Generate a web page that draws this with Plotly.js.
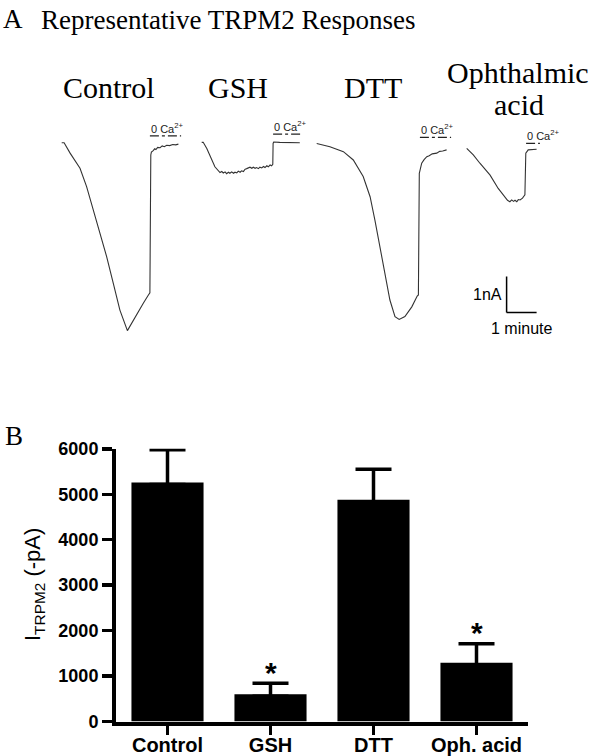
<!DOCTYPE html>
<html>
<head>
<meta charset="utf-8">
<script src="https://cdn.plot.ly/plotly-3.0.1.min.js"></script>
<style>html,body{margin:0;padding:0;background:#fff;}#chart{width:600px;height:756px;}</style>
</head>
<body>
<div id="chart"></div>
<script>
// ---------- Panel B data ----------
const categories = ['Control', 'GSH', 'DTT', 'Oph. acid'];
const meanCurrent = [5260, 600, 4880, 1290];     // -pA
const semCurrent  = [720, 240, 670, 420];        // -pA (upper error)
const significant = [false, true, false, true];
const yTicks = [0, 1000, 2000, 3000, 4000, 5000, 6000];

// ---------- Panel A recordings (time in min, current in nA) ----------
const recNames = ['Control', 'GSH', 'DTT', 'Ophthalmic acid'];
const ctrlTime = [0, 0.08, 0.28, 0.61, 0.83, 1.05, 1.28, 1.5, 1.72, 1.94, 2.19, 2.33, 2.5, 2.72, 2.89, 2.94, 2.97, 2.99, 3.05, 3.1, 3.14, 3.2, 3.28, 3.35, 3.42, 3.5, 3.6, 3.7, 3.8, 3.89];
const ctrlCurrent = [0, 0, -0.29, -0.71, -1.22, -1.87, -2.52, -3.17, -3.91, -4.65, -5.22, -5.02, -4.74, -4.46, -4.23, -4.17, -0.34, -0.26, -0.22, -0.17, -0.19, -0.13, -0.14, -0.09, -0.11, -0.07, -0.08, -0.05, -0.06, -0.04];

const gshTime = [0, 0.05, 0.17, 0.33, 0.44, 0.61, 0.67, 0.72, 0.78, 0.83, 0.89, 0.94, 1.0, 1.06, 1.11, 1.17, 1.22, 1.28, 1.33, 1.39, 1.44, 1.5, 1.56, 1.61, 1.67, 1.72, 1.78, 1.83, 1.89, 1.94, 2.0, 2.06, 2.11, 2.17, 2.22, 2.28, 2.33, 2.37, 2.38, 2.4, 2.6, 3.0, 3.27];
const gshCurrent = [0.01, 0.01, -0.16, -0.48, -0.67, -0.83, -0.80, -0.84, -0.81, -0.86, -0.82, -0.85, -0.81, -0.85, -0.82, -0.84, -0.79, -0.82, -0.78, -0.80, -0.74, -0.72, -0.70, -0.68, -0.71, -0.68, -0.71, -0.69, -0.72, -0.68, -0.70, -0.66, -0.69, -0.64, -0.67, -0.62, -0.64, -0.60, -0.02, 0.02, 0.01, 0.0, 0.0];

const dttTime = [0, 0.44, 0.89, 1.22, 1.55, 1.78, 1.94, 2.11, 2.28, 2.44, 2.61, 2.75, 2.94, 3.17, 3.35, 3.39, 3.42, 3.5, 3.58, 3.67, 3.75, 3.85, 4.0, 4.1, 4.2, 4.33];
const dttCurrent = [-0.02, -0.11, -0.25, -0.48, -0.94, -1.50, -2.15, -2.89, -3.63, -4.37, -4.83, -4.91, -4.83, -4.56, -4.26, -4.23, -0.85, -0.57, -0.47, -0.39, -0.36, -0.31, -0.29, -0.24, -0.23, -0.20];

const ophTime = [0, 0.22, 0.44, 0.78, 1.05, 1.28, 1.36, 1.44, 1.5, 1.56, 1.61, 1.67, 1.72, 1.78, 1.86, 1.94, 1.97, 2.05, 2.33];
const ophCurrent = [-0.16, -0.34, -0.57, -0.90, -1.27, -1.54, -1.60, -1.64, -1.59, -1.63, -1.60, -1.64, -1.58, -1.59, -1.54, -1.45, -0.29, -0.20, -0.18];

// 0 Ca2+ application periods (min)
const caStart = [2.94, 2.38, 3.44, 1.98];
const caEnd   = [3.98, 3.31, 4.48, 2.44];

// scale bar (1 nA, 1 minute)
const scaleAmp = 1;   // nA
const scaleDur = 1;   // min

// ---------- layout helpers ----------
const W = 600, H = 756;
const px = p => p / W;
const py = p => 1 - p / H;
const pxPerMin = 30;
const serif = 'Liberation Serif, Times New Roman, serif';
const sans = 'Liberation Sans, Arial, sans-serif';
const traceColor = '#333333';

// start pixel of each recording and visible length (min)
const recStartPx = [61.7, 201.7, 316.7, 466.7];
const recSpan = [4.2, 3.5, 4.7, 3.5];
const axisPad = 0.2;
const caLevel = [0.19, 0.24, 0.15, -0.02];

const recTimes = [ctrlTime, gshTime, dttTime, ophTime];
const recCurrents = [ctrlCurrent, gshCurrent, dttCurrent, ophCurrent];

// panel B geometry
const bY0 = 721.5, bY1 = 448.8;
const yMax = 6000;
const pxToVal = yMax / (bY0 - bY1);
const errTuck = 2 * pxToVal;   // hide the lower cap inside the bar

const data = [];
const layout = {
  width: W, height: H,
  margin: {l: 0, r: 0, t: 0, b: 0},
  paper_bgcolor: '#fff', plot_bgcolor: 'rgba(0,0,0,0)',
  showlegend: false,
  xaxis: {
    domain: [px(116), px(528)], range: [-0.5, 3.5], type: 'category',
    showline: true, linewidth: 4, linecolor: '#000',
    ticks: 'outside', ticklen: 9, tickwidth: 3.5, tickcolor: '#000',
    ticklabelstandoff: -7,
    tickfont: {family: sans, size: 20, color: '#000', weight: 'bold'},
    showgrid: false, zeroline: false, fixedrange: true
  },
  yaxis: {
    domain: [py(bY0), py(bY1)], range: [0, yMax],
    tickvals: yTicks, ticktext: yTicks.map(String),
    showline: true, linewidth: 4, linecolor: '#000',
    ticks: 'outside', ticklen: 10, tickwidth: 3.5, tickcolor: '#000',
    tickfont: {family: sans, size: 18, color: '#000', weight: 'bold'},
    showgrid: false, zeroline: false, fixedrange: true
  },
  yaxis2: {
    domain: [py(345), py(110)], range: [-(345 - 142.7) / 36, (142.7 - 110) / 36],
    visible: false, fixedrange: true, anchor: 'x2'
  },
  shapes: [],
  annotations: []
};

// panel B bars
data.push({
  type: 'bar', x: categories, y: meanCurrent,
  xaxis: 'x', yaxis: 'y', width: 0.7,
  marker: {color: '#000', line: {width: 0}},
  error_y: {type: 'data', array: semCurrent, arrayminus: semCurrent.map(() => errTuck),
            symmetric: false, color: '#000', thickness: 3.5, width: 18},
  hoverinfo: 'skip'
});

// panel A recordings
recNames.forEach((name, i) => {
  const ax = 'x' + (i + 2);
  const s = recStartPx[i] - axisPad * pxPerMin;
  const e = recStartPx[i] + recSpan[i] * pxPerMin;
  layout['xaxis' + (i + 2)] = {
    domain: [px(s), px(Math.min(e, W))], range: [-axisPad, recSpan[i]],
    visible: false, fixedrange: true, anchor: 'y2'
  };
  data.push({
    type: 'scatter', mode: 'lines', x: recTimes[i], y: recCurrents[i],
    xaxis: ax, yaxis: 'y2', line: {color: traceColor, width: 1.1},
    hoverinfo: 'skip'
  });
  layout.shapes.push({
    type: 'line', xref: ax, yref: 'y2', x0: caStart[i], x1: caEnd[i],
    y0: caLevel[i], y1: caLevel[i], line: {color: '#222', width: 1.3, dash: 'dashdot'}
  });
  layout.annotations.push({
    xref: ax, yref: 'y2', x: caStart[i], y: caLevel[i], xanchor: 'left', yanchor: 'bottom',
    text: '0 Ca<sup>2+</sup>', showarrow: false, borderpad: 0, yshift: 0,
    font: {family: sans, size: 11, color: '#222'}
  });
});

// scale bar in the Ophthalmic-acid axes
const sbX = 1.33, sbY = -4.72;
layout.shapes.push({type: 'line', xref: 'x5', yref: 'y2', x0: sbX, x1: sbX, y0: sbY, y1: sbY + scaleAmp, line: {color: '#000', width: 1.5}});
layout.shapes.push({type: 'line', xref: 'x5', yref: 'y2', x0: sbX, x1: sbX + scaleDur, y0: sbY, y1: sbY, line: {color: '#000', width: 1.5}});
layout.annotations.push({xref: 'x5', yref: 'y2', x: sbX, y: sbY + scaleAmp / 2, xanchor: 'right', yanchor: 'middle', xshift: -3,
  text: scaleAmp + 'nA', showarrow: false, font: {family: sans, size: 16, color: '#000'}});
layout.annotations.push({xref: 'x5', yref: 'y2', x: sbX + scaleDur / 2, y: sbY, xanchor: 'center', yanchor: 'top', yshift: -5,
  text: scaleDur + ' minute', showarrow: false, font: {family: sans, size: 16, color: '#000'}});

// panel A labels
const A = (text, x, y, size, anchor) => layout.annotations.push({
  xref: 'paper', yref: 'paper', x: px(x), y: py(y), xanchor: anchor || 'center', yanchor: 'middle',
  text: text, showarrow: false, borderpad: 0, font: {family: serif, size: size, color: '#000'}
});
A('A', 2, 19, 27, 'left');
A('Representative TRPM2 Responses', 40, 20, 27, 'left');
A(recNames[0], 108.5, 87, 30);
A(recNames[1], 238, 87, 30);
A(recNames[2], 373, 87, 30);
A('Ophthalmic', 517.5, 72, 30);
A('acid', 519, 105, 30);
A('B', 4, 436, 27, 'left');

// panel B y title
layout.annotations.push({
  xref: 'paper', yref: 'paper', x: px(34), y: py(585), xanchor: 'center', yanchor: 'middle',
  textangle: -90, text: 'I<sub>TRPM2</sub> (-pA)', showarrow: false,
  font: {family: sans, size: 22, color: '#000'}
});

// significance stars
categories.forEach((c, i) => {
  if (!significant[i]) return;
  layout.annotations.push({
    xref: 'x', yref: 'y', x: c, y: meanCurrent[i] + semCurrent[i], xanchor: 'center', yanchor: 'middle',
    yshift: 11, text: '*', showarrow: false, font: {family: sans, size: 30, color: '#000', weight: 'bold'}
  });
});

Plotly.newPlot('chart', data, layout, {staticPlot: true, displayModeBar: false});
</script>
</body>
</html>
